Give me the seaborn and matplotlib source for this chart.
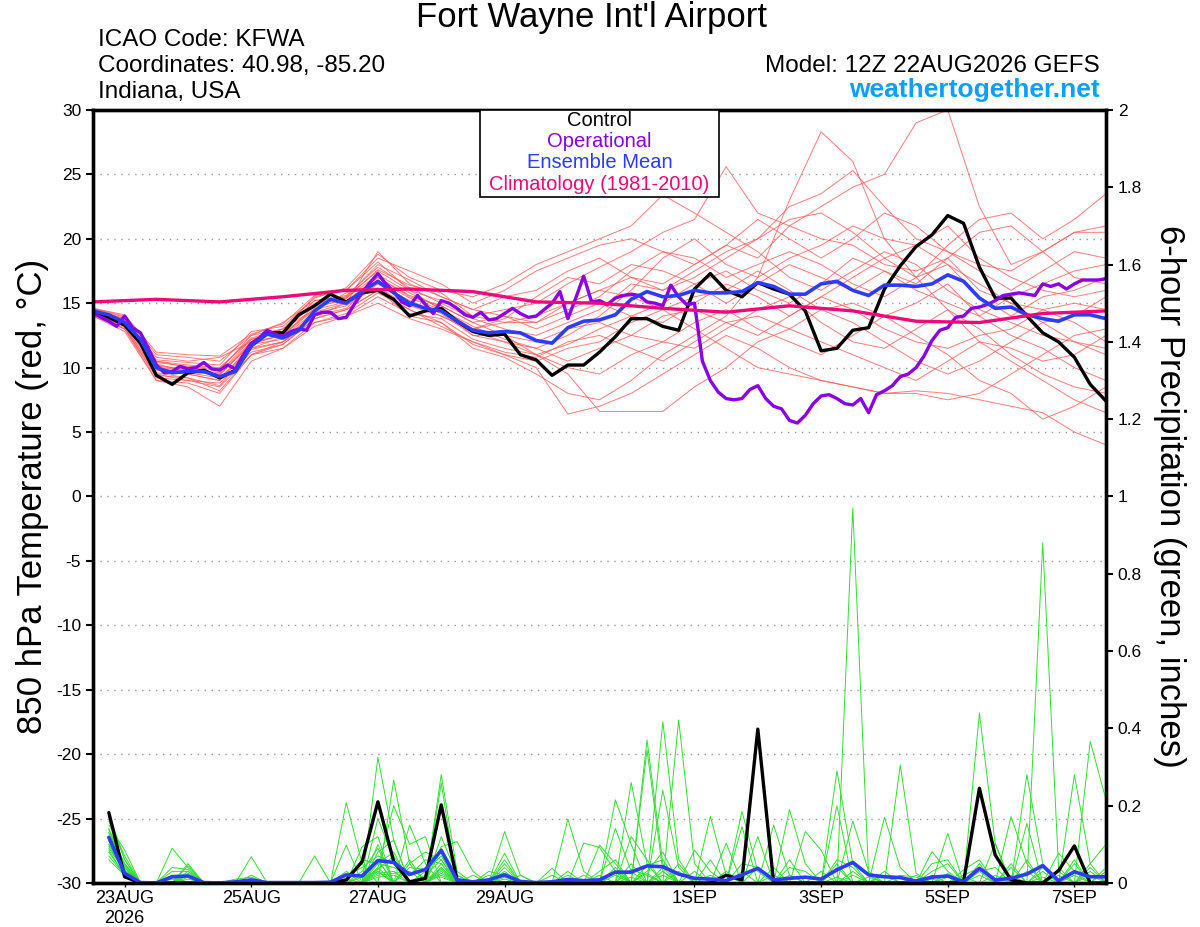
import numpy as np
import pandas as pd
import matplotlib
matplotlib.use("Agg")
import matplotlib.pyplot as plt
from matplotlib.patches import Rectangle
import seaborn as sns

sns.set_style("white")
plt.rcParams['font.family'] = ['Liberation Sans', 'DejaVu Sans']
plt.rcParams['text.color'] = 'black'
plt.rcParams['axes.labelcolor'] = 'black'
plt.rcParams['axes.unicode_minus'] = False

# ---------------- data ----------------
# 850 hPa temperature, 6-hourly from 22AUG 12Z to 7SEP 12Z
control_temp = [14.4, 13.9, 13.3, 11.9, 9.4, 8.7, 9.6, 9.8, 9.2, 9.8,
                11.7, 12.7, 12.7, 14.1, 14.8, 15.7, 15.1, 15.8, 16.0, 15.3,
                14.0, 14.4, 14.6, 13.6, 12.8, 12.5, 12.6, 11.0, 10.6, 9.4,
                10.2, 10.2, 11.2, 12.4, 13.8, 13.8, 13.2, 12.9, 16.1, 17.3,
                16.0, 15.5, 16.6, 16.1, 15.7, 14.4, 11.3, 11.5, 12.9, 13.1,
                16.1, 17.9, 19.4, 20.3, 21.8, 21.2, 17.8, 15.4, 15.4, 14.0,
                12.7, 12.0, 10.8, 8.7, 7.4]

mean_temp = [14.4, 14.1, 13.5, 12.2, 10.0, 9.6, 9.7, 9.7, 9.3, 9.7,
             11.7, 12.6, 12.3, 12.9, 14.4, 15.3, 15.0, 15.9, 16.7, 15.8,
             15.0, 14.6, 14.4, 13.6, 12.9, 12.7, 12.8, 12.7, 12.1, 11.9,
             13.1, 13.6, 13.7, 14.1, 15.3, 15.9, 15.5, 15.6, 16.0, 15.8,
             15.8, 15.9, 16.6, 16.3, 15.7, 15.7, 16.5, 16.7, 16.0, 15.6,
             16.4, 16.4, 16.3, 16.5, 17.2, 16.7, 15.4, 14.6, 14.7, 14.1,
             13.8, 13.6, 14.1, 14.1, 13.8]

# operational run, 3-hourly
oper_temp = [14.3, 13.9, 13.6, 13.2, 14.0, 13.1, 12.7, 11.5, 10.2, 9.6,
             9.7, 10.1, 9.9, 10.0, 10.4, 9.9, 9.8, 10.2, 9.9, 11.0,
             11.9, 12.3, 12.9, 12.6, 12.4, 12.8, 13.0, 12.9, 14.1, 14.3,
             14.3, 13.8, 13.9, 14.9, 15.8, 16.6, 17.3, 16.5, 15.9, 15.1,
             14.8, 15.6, 14.9, 14.2, 15.2, 15.0, 14.6, 14.1, 13.9, 14.3,
             13.7, 13.8, 14.2, 14.6, 14.2, 13.9, 14.0, 14.5, 15.0, 15.9,
             13.8, 15.4, 17.1, 15.1, 15.2, 14.9, 15.4, 15.6, 15.7, 15.6,
             15.1, 15.0, 14.8, 16.4, 15.5, 14.9, 15.0, 10.5, 9.0, 8.1,
             7.6, 7.5, 7.6, 8.3, 8.6, 7.6, 7.0, 6.8, 5.9, 5.7,
             6.3, 7.2, 7.8, 7.9, 7.6, 7.2, 7.1, 7.6, 6.5, 7.9,
             8.2, 8.6, 9.3, 9.5, 10.0, 10.9, 12.1, 12.9, 13.1, 13.9,
             14.0, 14.6, 14.7, 14.9, 15.2, 15.6, 15.7, 15.8, 15.7, 15.6,
             16.5, 16.3, 16.5, 16.1, 16.5, 16.8, 16.8, 16.8, 16.9]

# climatology, daily at 12Z
clim_temp = [15.1, 15.3, 15.1, 15.5, 16.0, 16.1, 15.9, 15.1, 15.0,
             14.6, 14.3, 14.8, 14.4, 13.6, 13.5, 14.2, 14.4]

# ensemble members, 12-hourly
member_temps = [
    [14.5, 13.8, 10.5, 10.2, 10.0, 12.2, 12.8, 15.0, 15.5, 17.5, 16.0, 15.2, 14.0, 14.5, 15.0, 16.5, 17.8, 19.0, 20.5, 21.5, 25.6, 22.0, 21.0, 20.0, 19.5, 18.0, 17.5, 18.5, 16.0, 15.0, 14.5, 13.5, 12.0],
    [14.2, 13.2, 9.5, 9.0, 8.5, 11.0, 11.8, 13.8, 14.5, 16.0, 14.5, 13.5, 11.5, 10.8, 9.5, 8.0, 7.5, 9.0, 11.0, 12.5, 14.0, 17.0, 23.0, 28.3, 26.0, 20.0, 17.0, 14.5, 12.0, 10.5, 9.0, 7.5, 6.5],
    [14.6, 14.0, 11.0, 10.8, 10.5, 12.5, 13.0, 15.5, 16.0, 18.5, 17.5, 16.5, 15.0, 16.0, 17.5, 18.5, 19.5, 20.0, 19.0, 18.0, 19.5, 18.5, 21.0, 22.5, 24.0, 25.0, 29.0, 30.0, 22.5, 18.0, 19.0, 20.5, 21.0],
    [14.0, 13.0, 9.0, 8.5, 7.0, 10.5, 11.5, 13.5, 14.0, 15.0, 13.8, 13.0, 12.0, 11.0, 10.0, 6.4, 7.0, 8.0, 9.5, 11.0, 12.5, 11.5, 10.0, 9.0, 8.5, 8.0, 8.2, 8.0, 7.5, 7.0, 6.5, 5.0, 4.0],
    [14.4, 13.6, 10.2, 9.8, 9.5, 12.0, 12.5, 14.8, 15.2, 17.0, 15.5, 14.8, 13.5, 12.5, 11.0, 9.5, 6.6, 6.6, 6.6, 8.5, 10.0, 12.0, 13.0, 14.5, 15.0, 14.0, 12.5, 11.0, 9.0, 8.0, 6.0, 7.0, 8.5],
    [14.3, 13.4, 10.0, 9.5, 9.0, 11.5, 12.0, 14.0, 15.0, 19.0, 16.5, 15.5, 14.5, 15.5, 16.0, 17.5, 18.5, 17.0, 16.0, 17.5, 19.0, 20.0, 22.5, 23.5, 25.3, 22.5, 20.0, 19.0, 18.0, 17.5, 19.0, 20.5, 20.5],
    [14.5, 13.7, 10.8, 10.5, 10.8, 12.0, 13.0, 14.5, 15.8, 16.5, 15.0, 14.0, 13.0, 13.5, 14.0, 15.0, 16.0, 15.5, 14.5, 13.0, 11.5, 10.0, 9.5, 9.0, 8.5, 8.0, 8.0, 7.5, 8.0, 9.5, 11.0, 12.5, 13.0],
    [14.2, 13.3, 9.8, 9.5, 9.0, 11.8, 12.2, 14.2, 14.8, 16.5, 15.2, 14.2, 12.5, 12.0, 11.5, 12.5, 14.0, 16.0, 18.5, 20.0, 18.0, 17.0, 18.5, 19.5, 21.0, 20.0, 19.5, 21.0, 18.5, 17.0, 16.0, 15.5, 16.0],
    [14.6, 13.9, 10.5, 10.0, 9.8, 12.5, 13.5, 15.2, 15.5, 18.0, 16.8, 15.5, 14.5, 14.0, 13.0, 14.0, 15.0, 14.0, 13.5, 15.0, 16.5, 15.5, 14.0, 15.5, 17.0, 18.5, 19.5, 18.0, 16.5, 15.0, 13.5, 12.0, 11.5],
    [14.1, 13.1, 9.2, 9.0, 8.8, 11.2, 11.8, 13.8, 14.5, 16.0, 14.0, 13.5, 11.8, 11.0, 10.5, 11.5, 12.0, 13.5, 14.5, 15.5, 16.0, 17.5, 16.0, 14.5, 13.5, 12.0, 10.5, 9.5, 10.5, 12.0, 13.5, 14.0, 15.5],
    [14.4, 13.5, 10.0, 9.8, 9.5, 11.8, 12.6, 14.6, 15.4, 17.2, 15.8, 14.6, 13.0, 13.8, 15.5, 17.0, 16.5, 18.0, 17.5, 16.5, 15.0, 16.5, 18.0, 17.0, 16.0, 17.5, 16.5, 18.5, 20.5, 21.0, 19.0, 17.0, 16.5],
    [14.3, 13.6, 10.3, 9.6, 9.2, 11.5, 12.4, 14.3, 15.0, 16.2, 14.8, 14.0, 12.8, 12.0, 11.0, 10.0, 9.5, 11.0, 12.0, 11.5, 13.0, 14.5, 15.5, 13.5, 12.0, 11.5, 13.0, 14.5, 13.0, 11.0, 9.5, 8.5, 8.0],
    [14.5, 13.8, 10.6, 10.4, 10.2, 12.8, 13.2, 15.4, 16.2, 18.8, 17.0, 16.0, 15.5, 16.5, 18.0, 19.0, 20.0, 21.0, 23.4, 22.0, 20.5, 19.0, 17.0, 16.0, 17.5, 19.0, 18.0, 16.0, 14.5, 13.5, 12.5, 12.0, 11.0],
    [14.0, 12.8, 9.0, 8.8, 8.0, 11.0, 11.5, 13.2, 14.0, 15.5, 14.2, 13.8, 12.2, 11.5, 11.0, 11.8, 13.0, 14.0, 15.0, 16.5, 17.5, 16.0, 15.0, 16.5, 18.5, 17.5, 16.0, 15.0, 14.0, 15.5, 16.5, 17.5, 18.0],
    [14.4, 13.4, 10.1, 9.9, 9.6, 12.2, 12.8, 15.2, 15.6, 17.8, 16.2, 15.0, 13.8, 13.0, 12.5, 13.5, 14.5, 16.5, 16.0, 17.0, 18.5, 20.0, 21.5, 22.0, 20.5, 18.5, 17.0, 19.5, 21.5, 22.0, 20.0, 21.5, 23.5],
    [14.2, 13.2, 9.6, 9.2, 8.6, 11.4, 12.0, 14.0, 14.6, 16.8, 15.4, 14.5, 12.5, 12.5, 12.0, 13.0, 13.5, 12.5, 12.0, 13.5, 14.5, 13.0, 12.0, 11.0, 12.5, 14.0, 15.0, 16.5, 14.0, 12.5, 11.5, 10.0, 9.0],
    [14.6, 14.1, 11.2, 11.0, 10.9, 12.6, 13.4, 15.6, 16.0, 18.2, 16.0, 14.5, 13.2, 12.2, 11.5, 10.5, 11.5, 12.5, 14.0, 14.5, 13.5, 12.5, 14.0, 15.5, 14.5, 13.0, 12.0, 11.5, 12.5, 13.0, 14.5, 15.0, 14.5],
    [14.3, 13.5, 9.9, 9.7, 9.4, 11.9, 12.5, 14.5, 15.1, 17.0, 15.6, 14.8, 13.5, 14.0, 13.5, 14.5, 15.5, 17.5, 19.0, 18.5, 17.0, 18.0, 19.0, 18.0, 16.5, 15.5, 17.0, 18.0, 15.5, 14.0, 15.5, 16.0, 17.0],
    [14.1, 13.0, 9.4, 9.2, 8.2, 11.0, 12.0, 13.5, 14.2, 15.8, 14.5, 13.2, 12.0, 11.2, 10.8, 12.0, 12.5, 11.5, 10.5, 12.0, 13.5, 14.0, 13.0, 12.0, 11.0, 10.0, 9.0, 10.5, 12.0, 11.5, 10.5, 11.0, 12.5],
    [14.5, 13.7, 10.4, 10.1, 9.9, 12.3, 13.0, 14.9, 15.4, 17.6, 16.4, 15.8, 14.0, 13.5, 13.5, 15.0, 16.0, 17.0, 16.5, 18.0, 19.5, 21.5, 20.0, 18.5, 20.0, 22.0, 21.0, 19.0, 17.5, 16.0, 17.5, 19.0, 18.5],
]

# 6-hour precipitation (inches), 22AUG 18Z to 7SEP 12Z
control_precip = [0.182, 0.016, 0, 0, 0, 0, 0, 0, 0, 0, 0, 0, 0, 0, 0,
                  0.008, 0.055, 0.21, 0.055, 0.003, 0.012, 0.202, 0.008,
                  0, 0, 0, 0, 0, 0, 0, 0, 0, 0, 0, 0, 0, 0, 0, 0,
                  0.02, 0.008, 0.398, 0, 0, 0, 0, 0, 0, 0, 0, 0, 0, 0, 0,
                  0.003, 0.245, 0.072, 0.008, 0, 0, 0.032, 0.096, 0, 0]

mean_precip = [0.118, 0.025, 0.001, 0, 0.016, 0.018, 0.001, 0, 0.003, 0.008,
               0.001, 0.001, 0.001, 0.001, 0.002, 0.021, 0.018, 0.058, 0.053, 0.022,
               0.035, 0.084, 0.008, 0.003, 0.008, 0.021, 0.004, 0.001, 0.003, 0.009,
               0.006, 0.008, 0.028, 0.028, 0.044, 0.042, 0.023, 0.012, 0.010, 0.006,
               0.021, 0.038, 0.008, 0.012, 0.015, 0.010, 0.034, 0.053, 0.021, 0.016,
               0.014, 0.005, 0.015, 0.018, 0.003, 0.038, 0.008, 0.012, 0.023, 0.045,
               0.006, 0.029, 0.016, 0.016]

# member precip as (6-h step, inches); steps not listed are dry
member_precip = [
    [(1, .18), (2, .06), (5, .09), (6, .04), (18, .325), (19, .11), (22, .04), (26, .133), (27, .02), (35, .37), (36, .05), (47, .29), (48, .05), (56, .44), (57, .1)],
    [(1, .15), (2, .085), (6, .05), (10, .068), (16, .208), (17, .05), (19, .266), (20, .05), (30, .165), (31, .03), (36, .417), (37, .06), (48, .97), (49, .02), (54, .128)],
    [(1, .12), (2, .04), (5, .03), (6, .03), (18, .167), (19, .06), (22, .28), (23, .03), (33, .215), (34, .1), (37, .422), (38, .05), (51, .305), (52, .025), (60, .88), (61, .04)],
    [(1, .10), (2, .03), (6, .045), (14, .07), (17, .094), (18, .12), (22, .258), (26, .077), (34, .26), (35, .05), (41, .185), (42, .03), (59, .28), (60, .05), (63, .366), (64, .215)],
    [(1, .14), (2, .05), (5, .02), (16, .098), (18, .06), (20, .15), (21, .05), (31, .103), (32, .092), (33, .03), (39, .172), (40, .02), (47, .2), (58, .172), (59, .05)],
    [(1, .08), (2, .02), (6, .03), (10, .02), (18, .04), (19, .2), (20, .1), (21, .12), (26, .04), (35, .344), (36, .03), (44, .19), (45, .05), (50, .17), (51, .04), (62, .28), (63, .05)],
    [(1, .16), (2, .07), (9, .01), (10, .015), (17, .03), (18, .09), (22, .094), (23, .107), (24, .03), (29, .038), (33, .141), (34, .03), (41, .146), (43, .15), (44, .02), (53, .081), (54, .03), (57, .103)],
    [(1, .11), (2, .035), (5, .04), (6, .035), (16, .03), (18, .08), (19, .111), (21, .03), (22, .07), (26, .05), (36, .24), (37, .04), (40, .103), (42, .12), (48, .16), (49, .03), (56, .05), (59, .154)],
    [(1, .09), (2, .03), (18, .1), (20, .06), (22, .05), (25, .03), (26, .02), (32, .098), (33, .05), (38, .085), (39, .03), (45, .133), (46, .085), (55, .034), (56, .06), (61, .077), (62, .03)],
    [(1, .13), (2, .045), (6, .02), (17, .06), (18, .05), (19, .08), (22, .12), (23, .02), (30, .03), (34, .12), (35, .06), (47, .06), (48, .04), (53, .05), (54, .06), (63, .05), (64, .1)],
    [(1, .17), (2, .06), (5, .015), (18, .03), (20, .05), (21, .08), (22, .06), (27, .02), (33, .04), (35, .03), (36, .08), (44, .06), (51, .02), (52, .015), (58, .05), (62, .06)],
    [(1, .06), (2, .02), (6, .025), (16, .02), (17, .04), (18, .07), (19, .05), (22, .03), (26, .03), (29, .02), (37, .03), (41, .05), (42, .04), (50, .03), (55, .02), (56, .04), (60, .04)],
    [(1, .12), (2, .05), (18, .05), (19, .04), (20, .02), (21, .06), (22, .05), (24, .02), (32, .03), (33, .06), (36, .04), (39, .06), (47, .04), (53, .03), (54, .05), (59, .06), (63, .03)],
    [(1, .10), (2, .04), (5, .02), (6, .02), (18, .035), (19, .07), (22, .04), (26, .06), (30, .02), (34, .05), (38, .03), (43, .04), (48, .03), (56, .03), (57, .04), (61, .02), (64, .04)],
    [(1, .14), (2, .03), (17, .02), (18, .06), (20, .04), (21, .035), (22, .09), (23, .02), (26, .025), (35, .045), (36, .06), (44, .04), (45, .03), (52, .02), (58, .04), (62, .05)],
    [(1, .07), (2, .02), (6, .015), (18, .025), (19, .03), (22, .025), (31, .02), (33, .03), (37, .05), (40, .03), (47, .05), (54, .025), (56, .03), (60, .03), (63, .04)],
    [(1, .13), (2, .04), (16, .01), (18, .04), (21, .02), (22, .06), (26, .015), (34, .035), (35, .02), (42, .04), (46, .03), (49, .015), (53, .02), (59, .03), (64, .03)],
    [(1, .095), (2, .03), (5, .01), (18, .02), (19, .025), (20, .03), (22, .035), (25, .02), (33, .02), (36, .03), (41, .03), (48, .02), (55, .015), (57, .02), (61, .03)],
    [(1, .11), (2, .025), (17, .015), (18, .03), (22, .02), (26, .01), (32, .02), (35, .025), (39, .02), (44, .02), (50, .02), (54, .015), (58, .02), (62, .02)],
    [(1, .085), (2, .02), (6, .01), (18, .015), (19, .02), (21, .015), (22, .015), (34, .015), (36, .02), (43, .02), (47, .015), (53, .01), (56, .02), (60, .015), (63, .02)],
]

tick_dates = ['2026-08-23', '2026-08-25', '2026-08-27', '2026-08-29',
              '2026-09-01', '2026-09-03', '2026-09-05', '2026-09-07']
tick_labels = ['23AUG\n2026', '25AUG', '27AUG', '29AUG', '1SEP', '3SEP', '5SEP', '7SEP']

# ---------------- time axes ----------------
t6 = pd.date_range('2026-08-22 12:00', periods=65, freq='6h')
t3 = pd.date_range('2026-08-22 12:00', periods=129, freq='3h')
t12 = pd.date_range('2026-08-22 12:00', periods=33, freq='12h')
t24 = pd.date_range('2026-08-22 12:00', periods=17, freq='24h')
tp = t6[1:]

red = '#ff5a5a'
green = '#33dd33'
purple = '#8a00e6'
blue = '#2b3cff'
magenta = '#f0087a'

fig = plt.figure(figsize=(12, 9.27), dpi=100)
ax = fig.add_axes([0.0775, 0.0475, 0.8442, 0.8339])

# temperature members
mem_rows = []
for m, vals in enumerate(member_temps):
    for t, v in zip(t12, vals):
        mem_rows.append((m, t, v))
mem_df = pd.DataFrame(mem_rows, columns=['member', 'time', 'temp'])
sns.lineplot(data=mem_df, x='time', y='temp', units='member', estimator=None,
             color=red, lw=0.7, alpha=0.8, ax=ax, legend=False)

sns.lineplot(x=t6, y=control_temp, color='black', lw=2.4, ax=ax)
sns.lineplot(x=t3, y=oper_temp, color=purple, lw=2.4, ax=ax)
sns.lineplot(x=t6, y=mean_temp, color=blue, lw=2.6, ax=ax)
sns.lineplot(x=t24, y=clim_temp, color=magenta, lw=2.4, ax=ax)

ax.set_xlim(t6[0], t6[-1])
ax.set_ylim(-30, 30)
ax.set_yticks(range(-30, 31, 5))
ax.grid(axis='y', linestyle=(0, (1, 4)), color='#999999', lw=1)
ax.grid(axis='x', visible=False)
ax.set_xticks(pd.to_datetime(tick_dates))
ax.set_xticklabels(tick_labels, fontsize=13)
ax.set_xlabel('')
ax.set_ylabel('850 hPa Temperature (red, °C)', fontsize=25, va='center')
ax.yaxis.set_label_coords(-0.06, 0.5)
ax.tick_params(axis='y', direction='out', length=5, width=1.5,
               left=True, labelsize=12.5, colors='black')
ax.tick_params(axis='x', direction='out', length=3, width=1,
               bottom=True, labelsize=13, colors='black', pad=2)

# precipitation on right axis
ax2 = ax.twinx()
prec_rows = []
for m, pairs in enumerate(member_precip):
    vals = np.zeros(len(tp))
    for step, v in pairs:
        vals[step - 1] = v
    for t, v in zip(tp, vals):
        prec_rows.append((m, t, v))
prec_df = pd.DataFrame(prec_rows, columns=['member', 'time', 'precip'])
sns.lineplot(data=prec_df, x='time', y='precip', units='member', estimator=None,
             color=green, lw=0.7, ax=ax2, legend=False)
sns.lineplot(x=tp, y=control_precip, color='black', lw=2.4, ax=ax2)
sns.lineplot(x=tp, y=mean_precip, color=blue, lw=2.6, ax=ax2)

ax2.set_xlim(t6[0], t6[-1])
ax2.set_ylim(0, 2)
ax2.set_yticks(np.arange(0, 2.001, 0.2))
ax2.set_yticklabels([f'{v:g}' for v in np.arange(0, 2.001, 0.2).round(1)])
ax2.grid(False)
ax2.set_ylabel('6-hour Precipitation (green, inches)', fontsize=25,
               rotation=270, va='center')
ax2.yaxis.set_label_coords(1.063, 0.5)
ax2.tick_params(axis='y', direction='out', length=5, width=1.5,
                right=True, labelsize=12.5, colors='black')

for a in (ax, ax2):
    for s in a.spines.values():
        s.set_linewidth(2.4)
        s.set_color('black')

# legend box
ax2.add_patch(Rectangle((0.382, 0.8875), 0.236, 0.1125, transform=ax2.transAxes,
                        facecolor='white', edgecolor='black', lw=1.2,
                        zorder=10, clip_on=False))
legend_items = [('Control', 'black', 0.9858), ('Operational', purple, 0.9586),
                ('Ensemble Mean', blue, 0.9314),
                ('Climatology (1981-2010)', magenta, 0.903)]
for txt, col, yy in legend_items:
    ax2.text(0.5, yy, txt, color=col, fontsize=14.5, ha='center', va='center',
             transform=ax2.transAxes, zorder=11)

# header text
fig.text(0.4925, 0.981, "Fort Wayne Int'l Airport", ha='center', va='center', fontsize=25)
fig.text(0.0817, 0.957, 'ICAO Code: KFWA', ha='left', va='center', fontsize=17.5)
fig.text(0.0817, 0.929, 'Coordinates: 40.98, -85.20', ha='left', va='center', fontsize=17.5)
fig.text(0.0817, 0.901, 'Indiana, USA', ha='left', va='center', fontsize=17.5)
fig.text(0.9167, 0.929, 'Model: 12Z 22AUG2026 GEFS', ha='right', va='center', fontsize=17.5)
fig.text(0.9167, 0.903, 'weathertogether.net', ha='right', va='center', fontsize=19,
         fontweight='bold', color='#0aa0ff')

fig.savefig('out.png', dpi=100)
